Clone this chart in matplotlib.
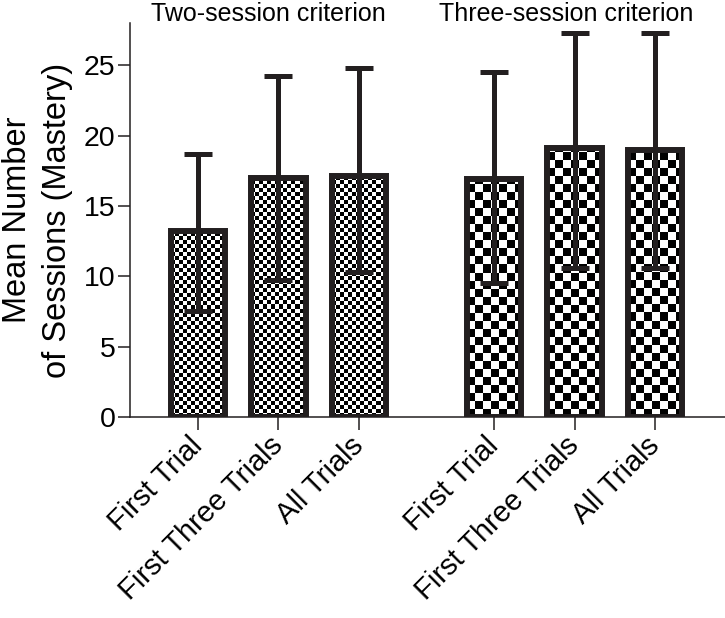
import numpy as np
import matplotlib
matplotlib.use("Agg")
import matplotlib.pyplot as plt
import matplotlib.transforms as mtransforms

plt.rcParams['font.family'] = ['Liberation Sans', 'DejaVu Sans']

# data
labels = ['First Trial', 'First Three Trials', 'All Trials',
          'First Trial', 'First Three Trials', 'All Trials']
means = [13.2, 16.95, 17.1, 16.9, 19.1, 19.0]
err_low = [5.7, 7.2, 6.8, 7.4, 8.5, 8.4]
err_high = [5.5, 7.3, 7.7, 7.6, 8.2, 8.3]
groups = ['Two-session criterion', 'Three-session criterion']

dark = '#231f20'
positions = [0, 1, 2, 3.68, 4.68, 5.68]
width = 0.68
# checker cell size (x, y) in data units for each group
cells = [(0.05, 0.285)] * 3 + [(0.1, 0.57)] * 3

fig = plt.figure(figsize=(7.25, 6.18), dpi=100)
ax = fig.add_axes([0.1793, 0.3252, 0.8207, 0.6376])

for x, h, (cx, cy) in zip(positions, means, cells):
    bar = ax.bar(x, h, width, facecolor='none', edgecolor=dark,
                 linewidth=4.3, zorder=3)[0]
    nx = int(np.ceil(width / cx))
    ny = int(np.ceil(h / cy))
    board = np.indices((ny, nx)).sum(axis=0) % 2
    left = x - width / 2
    im = ax.imshow(board, cmap='gray', vmin=0, vmax=1, origin='lower',
                   extent=(left, left + nx * cx, 0, ny * cy),
                   interpolation='nearest', aspect='auto', zorder=2)
    im.set_clip_path(bar)

ax.errorbar(positions, means, yerr=[err_low, err_high], fmt='none',
            ecolor=dark, elinewidth=3.6, capsize=10, capthick=3.6, zorder=4)

ax.set_xlim(-0.845, 6.55)
ax.set_ylim(0, 28)
ax.set_yticks([0, 5, 10, 15, 20, 25])
ax.set_xticks(positions)
ax.set_xticklabels(labels, rotation=45, ha='right')

for side in ['top', 'right']:
    ax.spines[side].set_visible(False)
for side in ['left', 'bottom']:
    ax.spines[side].set_linewidth(1.1)
    ax.spines[side].set_color(dark)

ax.tick_params(axis='y', length=8.5, width=1.1, color=dark, labelsize=20.5, pad=2)
ax.tick_params(axis='x', length=9.5, width=1.1, color=dark, labelsize=21, pad=1)

# nudge the rotated labels a few pixels to the right, like the original
# (after tick_params, which resets the label transforms)
shift = mtransforms.ScaledTranslation(10 / 100, 0, fig.dpi_scale_trans)
for lab in ax.get_xticklabels():
    lab.set_transform(lab.get_transform() + shift)

ax.set_ylabel('Mean Number\nof Sessions (Mastery)', fontsize=23.5,
              linespacing=1.35, labelpad=8)

trans = mtransforms.blended_transform_factory(ax.transData, ax.transAxes)
ax.text(0.87, 1.006, groups[0], transform=trans, ha='center', va='baseline',
        fontsize=18)
ax.text(4.58, 1.006, groups[1], transform=trans, ha='center', va='baseline',
        fontsize=18)

fig.savefig('out.png', dpi=100)
